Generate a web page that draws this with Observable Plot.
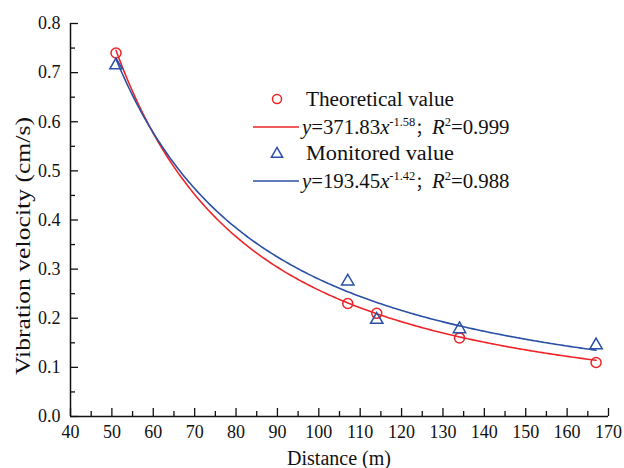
<!DOCTYPE html>
<html>
<head>
<meta charset="utf-8">
<script src="https://cdn.jsdelivr.net/npm/d3@7"></script>
<script src="https://cdn.jsdelivr.net/npm/@observablehq/plot@0.6"></script>
<style>
  html, body { margin: 0; padding: 0; background: #fff; }
  #chart { position: relative; width: 624px; height: 468px; }
</style>
</head>
<body>
<div id="chart"></div>
<script>
// Data
const distance = [51, 107, 114, 134, 167];
const theoretical = [0.74, 0.23, 0.21, 0.16, 0.11];
const monitored = [0.715, 0.275, 0.197, 0.178, 0.145];
// Fit equations shown in the legend: y = a * x^b
const fitTheo = {a: 371.83, b: -1.58, r2: "0.999"};
const fitMon = {a: 193.45, b: -1.42, r2: "0.988"};
const xTicks = [40, 50, 60, 70, 80, 90, 100, 110, 120, 130, 140, 150, 160, 170];
const xMinor = [45, 55, 65, 75, 85, 95, 105, 115, 125, 135, 145, 155, 165];
const yTicks = [0, 0.1, 0.2, 0.3, 0.4, 0.5, 0.6, 0.7, 0.8];
const yMinor = [0.05, 0.15, 0.25, 0.35, 0.45, 0.55, 0.65, 0.75];
const xTitle = "Distance (m)";
const yTitle = "Vibration velocity (cm/s)";

const RED = "#ee2528";
const BLUE = "#2c50a4";
const SERIF = "'Liberation Serif', 'Times New Roman', serif";
const CJK = "'Noto Sans CJK SC', sans-serif";

const theoPts = distance.map((d, i) => ({x: d, y: theoretical[i]}));
const monPts = distance.map((d, i) => ({x: d, y: monitored[i]}));
const xs = d3.range(distance[0], distance[distance.length - 1] + 0.01, 0.5);
const theoCurve = xs.map(x => ({x, y: fitTheo.a * Math.pow(x, fitTheo.b)}));
const monCurve = xs.map(x => ({x, y: fitMon.a * Math.pow(x, fitMon.b)}));

const plot = Plot.plot({
  width: 624,
  height: 468,
  marginLeft: 70,
  marginRight: 16,
  marginTop: 23,
  marginBottom: 52,
  style: {fontSize: "18px", color: "#111", background: "#fff"},
  x: {domain: [40, 170]},
  y: {domain: [0, 0.8]},
  marks: [
    Plot.ruleY([0], {stroke: "#111", strokeWidth: 1.5}),
    Plot.ruleX([40], {stroke: "#111", strokeWidth: 1.5}),
    // inward ticks
    Plot.axisX({ticks: xTicks, tickSize: -8, fill: "none", label: null, strokeWidth: 1.3}),
    Plot.axisX({ticks: xMinor, tickSize: -5, fill: "none", label: null, strokeWidth: 1.3}),
    Plot.axisY({ticks: yTicks, tickSize: -8, fill: "none", label: null, strokeWidth: 1.3}),
    Plot.axisY({ticks: yMinor, tickSize: -5, fill: "none", label: null, strokeWidth: 1.3}),
    // tick labels
    Plot.axisX({ticks: xTicks, tickSize: 0, tickPadding: 9, fontSize: 18, label: null}),
    Plot.axisY({ticks: yTicks, tickSize: 0, tickPadding: 10, tickFormat: d3.format(".1f"), fontSize: 18, label: null}),
    Plot.line(theoCurve, {x: "x", y: "y", stroke: RED, strokeWidth: 1.6}),
    Plot.line(monCurve, {x: "x", y: "y", stroke: BLUE, strokeWidth: 1.6}),
    Plot.dot(theoPts, {x: "x", y: "y", r: 5, stroke: RED, strokeWidth: 1.5, fill: "none"}),
    Plot.dot(monPts, {x: "x", y: "y", r: 4.6, symbol: "triangle", stroke: BLUE, strokeWidth: 1.5, fill: "none"})
  ]
});
document.getElementById("chart").appendChild(plot);

const svg = d3.select(plot);
svg.attr("font-family", SERIF).style("font-family", SERIF);

// Axis titles
svg.append("text").attr("x", 339).attr("y", 465).attr("text-anchor", "middle")
  .attr("font-size", 20).attr("fill", "#111").text(xTitle);
svg.append("text").attr("transform", "translate(30,246) rotate(-90)").attr("text-anchor", "middle")
  .attr("font-size", 21).attr("fill", "#111")
  .attr("textLength", 258).attr("lengthAdjust", "spacingAndGlyphs").text(yTitle);

// Legend
const lg = svg.append("g").attr("font-size", 20).attr("fill", "#111").attr("text-anchor", "start");
const rows = [
  {kind: "circle", color: RED, text: "Theoretical value", cy: 99},
  {kind: "line", color: RED, fit: fitTheo, cy: 127},
  {kind: "triangle", color: BLUE, text: "Monitored value", cy: 153},
  {kind: "line", color: BLUE, fit: fitMon, cy: 181}
];
rows.forEach(r => {
  if (r.kind === "circle") {
    lg.append("circle").attr("cx", 277).attr("cy", r.cy).attr("r", 4.5).attr("fill", "none").attr("stroke", r.color).attr("stroke-width", 1.5);
  } else if (r.kind === "triangle") {
    lg.append("path").attr("d", d3.symbol(d3.symbolTriangle, 55)()).attr("transform", `translate(277,${r.cy + 1})`)
      .attr("fill", "none").attr("stroke", r.color).attr("stroke-width", 1.5);
  } else {
    lg.append("line").attr("x1", 253).attr("x2", 299).attr("y1", r.cy).attr("y2", r.cy).attr("stroke", r.color).attr("stroke-width", 1.6);
  }
  if (r.text) {
    lg.append("text").attr("x", 306).attr("y", r.cy + 7).attr("textLength", 148).attr("lengthAdjust", "spacingAndGlyphs").text(r.text);
  } else {
    const g = lg.append("g").attr("transform", `translate(302,${r.cy + 7}) scale(1.04,1)`);
    const t = g.append("text").attr("x", 0).attr("y", 0);
    t.append("tspan").attr("font-style", "italic").text("y");
    t.append("tspan").text("=" + r.fit.a.toFixed(2));
    t.append("tspan").attr("font-style", "italic").text("x");
    t.append("tspan").attr("font-size", 12).attr("dy", -8).text(r.fit.b.toFixed(2));
    t.append("tspan").attr("class", "cjk").attr("dy", 8).attr("font-size", 16).text("；");
    t.append("tspan").attr("font-style", "italic").text("R");
    t.append("tspan").attr("font-size", 12).attr("dy", -8).text("2");
    t.append("tspan").attr("dy", 8).text("=" + r.fit.r2);
  }
});

// Force the serif face on every text element; CJK punctuation keeps its own face
svg.selectAll("text, tspan").style("font-family", SERIF);
svg.selectAll("tspan.cjk").style("font-family", CJK);
</script>
</body>
</html>
